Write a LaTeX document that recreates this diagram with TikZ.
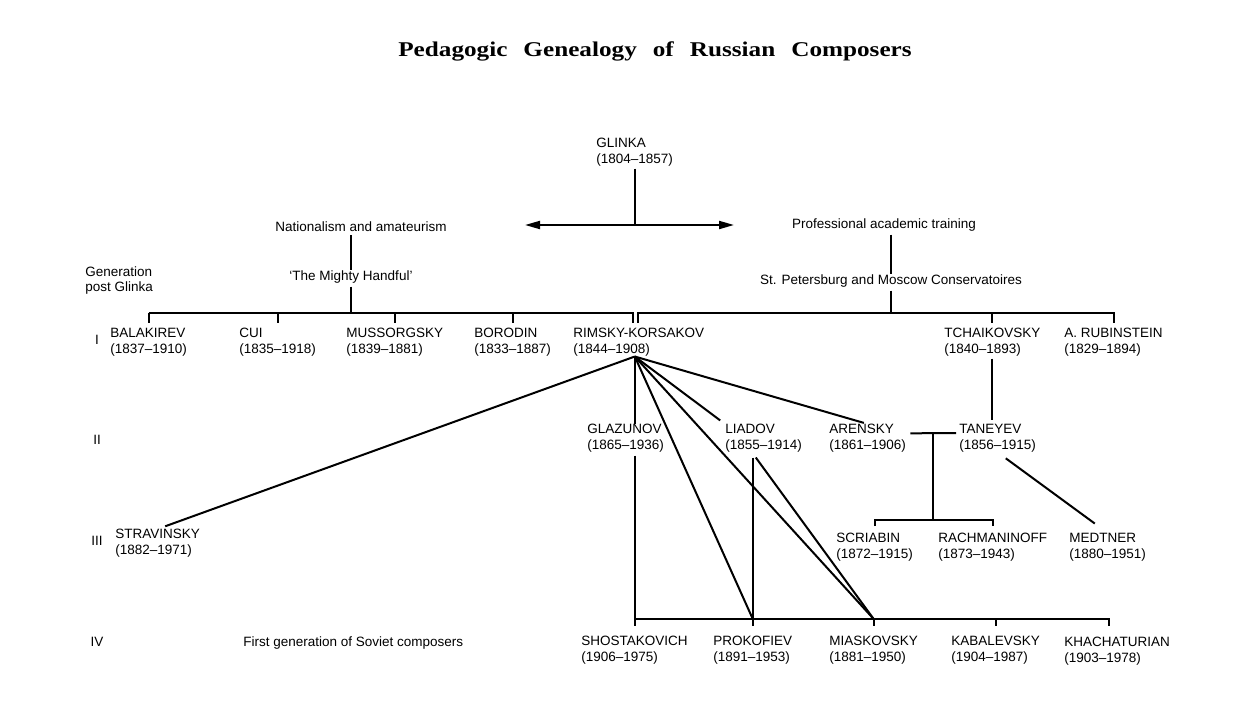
\documentclass[tikz,border=0pt]{standalone}
\usepackage{fontspec}
\setmainfont{Liberation Sans}
\newfontfamily\titlefont[FakeStretch=1.2]{Liberation Serif}
\usetikzlibrary{arrows.meta,calc}

\begin{document}
\begin{tikzpicture}[x=0.5pt,y=-0.5pt,
  composer/.style={anchor=north west,inner sep=0pt,align=left,font=\fontsize{6.75}{7.75}\selectfont},
  caption/.style={inner sep=0pt,font=\fontsize{6.75}{7.75}\selectfont},
  link/.style={line width=1pt,line join=miter}]
\useasboundingbox[fill=white] (0,0) rectangle (1257,712);
\node[inner sep=0pt,anchor=base] (title) at (655,56)
  {\titlefont\bfseries\fontsize{10.5}{12}\selectfont\spaceskip=8pt Pedagogic Genealogy of Russian Composers};

% Glinka and the two roads
\node[composer] (glinka) at (596,138) {GLINKA\\(1804--1857)};
\coordinate (fork) at (glinka.south |- 0,225);
\coordinate (westend) at (525,225);
\coordinate (eastend) at (734,225);
\draw[link,{Triangle[length=7.5pt,width=4pt]}-{Triangle[length=7.5pt,width=4pt]}] (westend) -- (eastend);
\draw[link,shorten <=1pt] (glinka.south) -- (fork);
\node[caption] (national) at (361,227) {Nationalism and amateurism};
\node[caption] (handful) at (351,277) {`The Mighty Handful'};
\node[caption] (prof) at (884,225) {Professional academic training};
\node[caption] (cons) at (891,281) {St. Petersburg and Moscow Conservatoires};
\node[composer] (generation) at (85,266) {Generation\\post Glinka};

% generation numbers
\foreach \r/\y in {I/340,II/440,III/541,IV/642}
  {\node[caption] (row\r) at (97,\y) {\r};}

% generation I
\node[composer] (balakirev) at (110,328) {BALAKIREV\\(1837--1910)};
\node[composer] (cui) at (239,328) {CUI\\(1835--1918)};
\node[composer] (mussorgsky) at (346,328) {MUSSORGSKY\\(1839--1881)};
\node[composer] (borodin) at (474,328) {BORODIN\\(1833--1887)};
\node[composer] (rimsky) at (573,328) {RIMSKY-KORSAKOV\\(1844--1908)};
\node[composer] (tchaikovsky) at (944,328) {TCHAIKOVSKY\\(1840--1893)};
\node[composer] (rubinstein) at (1064,328) {A. RUBINSTEIN\\(1829--1894)};

% generation II
\node[composer] (glazunov) at (587,424) {GLAZUNOV\\(1865--1936)};
\node[composer] (liadov) at (725,424) {LIADOV\\(1855--1914)};
\node[composer] (arensky) at (829,424) {ARENSKY\\(1861--1906)};
\node[composer] (taneyev) at (959,424) {TANEYEV\\(1856--1915)};

% generation III
\node[composer] (stravinsky) at (115,529) {STRAVINSKY\\(1882--1971)};
\node[composer] (scriabin) at (836,533) {SCRIABIN\\(1872--1915)};
\node[composer] (rachmaninoff) at (938,533) {RACHMANINOFF\\(1873--1943)};
\node[composer] (medtner) at (1069,533) {MEDTNER\\(1880--1951)};

% generation IV
\node[composer] (soviet) at (243,636) {First generation of Soviet composers};
\node[composer] (shostakovich) at (581,636) {SHOSTAKOVICH\\(1906--1975)};
\node[composer] (prokofiev) at (713,636) {PROKOFIEV\\(1891--1953)};
\node[composer] (miaskovsky) at (829,636) {MIASKOVSKY\\(1881--1950)};
\node[composer] (kabalevsky) at (951,636) {KABALEVSKY\\(1904--1987)};
\node[composer] (khachaturian) at (1064,637) {KHACHATURIAN\\(1903--1978)};

% brackets under the two roads
\coordinate (lbar) at (0,313);
\coordinate (rk) at ([xshift=-1.5pt]rimsky.north |- lbar);
\coordinate (rkfoot) at ([xshift=-2pt]rimsky.south);
\draw[link,shorten <=1.5pt] (handful.north |- national.south) -- (handful.north);
\draw[link,shorten <=1.5pt] (handful.south) -- (handful.south |- lbar);
\draw[link,shorten <=1.5pt] (cons.north |- prof.south) -- (cons.north);
\draw[link,shorten <=1.5pt] (cons.south) -- (cons.south |- lbar);
\draw[link] (balakirev.north |- lbar) -- ([xshift=-1.2pt]rk) -- ([xshift=-1.2pt,yshift=-5pt]rk);
\draw[link] ([xshift=1.2pt,yshift=-5pt]rk) -- ([xshift=1.2pt]rk) -- (rubinstein.north |- lbar) -- ++(0,10);
\foreach \n in {balakirev,cui,mussorgsky,borodin,tchaikovsky}
  {\draw[link] (\n.north |- lbar) -- ++(0,10);}

% pupils of Rimsky-Korsakov
\draw[link,shorten >=4pt] (rkfoot) -- (stravinsky.north);
\draw[link] (rkfoot) -- (rkfoot |- glazunov.north);
\draw[link,shorten >=3pt] (rkfoot) -- (liadov.north west);
\draw[link,shorten >=2pt] (rkfoot) -- (arensky.north);

% pupils of Tchaikovsky, Arensky and Taneyev
\coordinate (srbar) at (0,520);
\draw[link,shorten <=1pt,shorten >=2pt] (tchaikovsky.south) -- (tchaikovsky.south |- taneyev.north);
\path ([xshift=2pt,yshift=2.5pt]arensky.east) coordinate (aren)
  -- ([xshift=-1.5pt,yshift=2.5pt]taneyev.west) coordinate (tane);
\draw[link] (aren) -- (tane);
\coordinate (mid) at ($(aren)!.5!(tane)$);
\draw[link] (mid) -- (mid |- srbar);
\draw[link] (scriabin.north |- srbar) ++(0,6) -- ++(0,-6) -- (rachmaninoff.north |- srbar) -- ++(0,6);
\draw[link,shorten <=5pt,shorten >=8pt] (taneyev.south) -- (medtner.north);

% Soviet generation
\coordinate (sbar) at (0,619);
\coordinate (glazfoot) at (rkfoot |- glazunov.south);
\coordinate (khachtop) at ([xshift=-4pt]khachaturian.north);
\draw[link] ([yshift=-1.5pt]glazfoot) -- (glazfoot |- sbar) -- ++(0,7);
\draw[link] (glazfoot |- sbar) -- (khachtop |- sbar) -- ++(0,7);
\foreach \n in {prokofiev,miaskovsky,kabalevsky}
  {\draw[link] (\n.north |- sbar) -- ++(0,7);}
\draw[link] (rkfoot) -- (prokofiev.north |- sbar);
\draw[link] (rkfoot) -- (miaskovsky.north |- sbar);
\draw[link] (prokofiev.north |- liadov.south) ++(0,5) -- (prokofiev.north |- sbar);
\draw[link] (prokofiev.north |- liadov.south) ++(3,5) -- (miaskovsky.north |- sbar);
\end{tikzpicture}
\end{document}
